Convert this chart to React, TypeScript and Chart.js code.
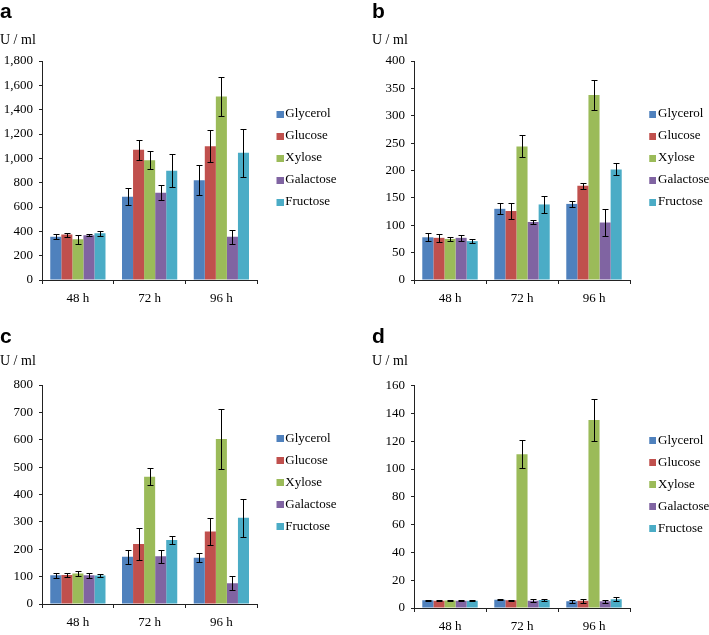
import React, { useEffect, useRef } from 'react';
import { Chart, registerables } from 'chart.js';

Chart.register(...registerables);

const categories = ['48 h', '72 h', '96 h'];
const seriesNames = ['Glycerol', 'Glucose', 'Xylose', 'Galactose', 'Fructose'];
const seriesColors = ['#4F81BD', '#C0504D', '#9BBB59', '#8064A2', '#4BACC6'];

// Panel a
const aGlycerol = [355, 685, 820];
const aGlucose = [373, 1070, 1100];
const aXylose = [335, 984, 1508];
const aGalactose = [367, 717, 355];
const aFructose = [384, 898, 1045];
const aGlycerolErr = [20, 72, 125];
const aGlucoseErr = [16, 82, 132];
const aXyloseErr = [35, 74, 158];
const aGalactoseErr = [8, 62, 57];
const aFructoseErr = [20, 137, 197];
const aTicks = [0, 1800, 200];

// Panel b
const bGlycerol = [78, 130, 139];
const bGlucose = [77, 126, 172];
const bXylose = [75, 244, 338];
const bGalactose = [77, 106, 105];
const bFructose = [71, 138, 202];
const bGlycerolErr = [7, 10, 6];
const bGlucoseErr = [7, 14, 6];
const bXyloseErr = [4, 20, 28];
const bGalactoseErr = [6, 3.5, 24];
const bFructoseErr = [4, 15, 11];
const bTicks = [0, 400, 50];

// Panel c
const cGlycerol = [105, 173, 169];
const cGlucose = [106, 219, 265];
const cXylose = [111, 465, 603];
const cGalactose = [105, 174, 76];
const cFructose = [104, 234, 315];
const cGlycerolErr = [10, 26, 17];
const cGlucoseErr = [7, 60, 48];
const cXyloseErr = [9, 32, 111];
const cGalactoseErr = [10, 23, 25];
const cFructoseErr = [7, 13, 69];
const cTicks = [0, 800, 100];

// Panel d
const dGlycerol = [5.5, 6.0, 4.8];
const dGlucose = [5.3, 5.5, 5.3];
const dXylose = [5.4, 110.7, 135.3];
const dGalactose = [5.3, 5.3, 4.8];
const dFructose = [5.3, 5.8, 6.3];
const dGlycerolErr = [0.3, 0.3, 1.3];
const dGlucoseErr = [0.3, 0.3, 1.5];
const dXyloseErr = [0.3, 10, 15];
const dGalactoseErr = [0.3, 1.2, 1.2];
const dFructoseErr = [0.3, 1.0, 1.3];
const dTicks = [0, 160, 20];

const panels = [
  {
    label: 'a', left: 0, top: 0, width: 343, height: 316, subPad: { top: 6.4, bottom: 12.6 },
    values: [aGlycerol, aGlucose, aXylose, aGalactose, aFructose],
    errors: [aGlycerolErr, aGlucoseErr, aXyloseErr, aGalactoseErr, aFructoseErr],
    ticks: aTicks,
  },
  {
    label: 'b', left: 372, top: 0, width: 344, height: 316, subPad: { top: 6.4, bottom: 12.6 },
    values: [bGlycerol, bGlucose, bXylose, bGalactose, bFructose],
    errors: [bGlycerolErr, bGlucoseErr, bXyloseErr, bGalactoseErr, bFructoseErr],
    ticks: bTicks,
  },
  {
    label: 'c', left: 0, top: 325, width: 343, height: 315, subPad: { top: 3.1, bottom: 14.9 },
    values: [cGlycerol, cGlucose, cXylose, cGalactose, cFructose],
    errors: [cGlycerolErr, cGlucoseErr, cXyloseErr, cGalactoseErr, cFructoseErr],
    ticks: cTicks,
  },
  {
    label: 'd', left: 372, top: 325, width: 344, height: 319, subPad: { top: 3.1, bottom: 15.6 },
    values: [dGlycerol, dGlucose, dXylose, dGalactose, dFructose],
    errors: [dGlycerolErr, dGlucoseErr, dXyloseErr, dGalactoseErr, dFructoseErr],
    ticks: dTicks,
  },
];

const AXIS = '#222';
const SERIF = "'Liberation Serif', 'Times New Roman', serif";

const errorBarPlugin = {
  id: 'errorBars',
  afterDatasetsDraw(chart: any) {
    const ctx = chart.ctx;
    const yScale = chart.scales.y;
    chart.data.datasets.forEach((ds: any, di: number) => {
      const meta = chart.getDatasetMeta(di);
      meta.data.forEach((bar: any, i: number) => {
        const v = ds.data[i];
        const e = ds.errors[i];
        const x = Math.round(bar.x) + 0.5;
        const yT = Math.round(yScale.getPixelForValue(v + e)) + 0.5;
        const yB = Math.round(yScale.getPixelForValue(v - e)) + 0.5;
        ctx.save();
        ctx.strokeStyle = '#000';
        ctx.lineWidth = 1;
        ctx.beginPath();
        ctx.moveTo(x, yT);
        ctx.lineTo(x, yB);
        ctx.moveTo(x - 3, yT);
        ctx.lineTo(x + 3, yT);
        ctx.moveTo(x - 3, yB);
        ctx.lineTo(x + 3, yB);
        ctx.stroke();
        ctx.restore();
      });
    });
  },
};

function makeSwatch(color: string) {
  const c = document.createElement('canvas');
  c.width = 22;
  c.height = 7;
  const g = c.getContext('2d')!;
  g.fillStyle = color;
  g.fillRect(15, 0, 7, 7);
  return c;
}

function Panel({ p }: { p: any }) {
  const ref = useRef<HTMLCanvasElement | null>(null);
  useEffect(() => {
    if (!ref.current) return;
    const swatches = seriesColors.map(makeSwatch);
    const chart = new Chart(ref.current, {
      type: 'bar',
      data: {
        labels: categories,
        datasets: seriesNames.map((name, i) => ({
          label: name,
          data: p.values[i],
          errors: p.errors[i],
          backgroundColor: seriesColors[i],
          borderWidth: 0,
          categoryPercentage: 0.77,
          barPercentage: 1,
        })) as any,
      },
      options: {
        responsive: false,
        animation: false,
        layout: { padding: 0 },
        plugins: {
          tooltip: { enabled: false },
          title: {
            display: true,
            text: p.label,
            align: 'start',
            color: '#000',
            font: { family: "'Liberation Sans', Arial, sans-serif", size: 21, weight: 'bold' },
            padding: { top: 0, bottom: 0 },
          },
          subtitle: {
            display: true,
            text: 'U / ml',
            align: 'start',
            color: '#000',
            font: { family: SERIF, size: 14 },
            padding: p.subPad,
          },
          legend: {
            position: 'right',
            align: 'center',
            labels: {
              color: '#000',
              font: { family: SERIF, size: 13 },
              usePointStyle: true,
              pointStyleWidth: 12.5,
              padding: 9,
              generateLabels: (chart: any) =>
                Chart.defaults.plugins.legend.labels
                  .generateLabels(chart)
                  .map((l: any, i: number) => ({ ...l, pointStyle: swatches[i], fontColor: '#000' })),
            },
          },
        },
        scales: {
          x: {
            grid: {
              display: true,
              drawOnChartArea: false,
              drawTicks: true,
              tickLength: 4,
              color: AXIS,
              offset: true,
            },
            border: { display: true, color: AXIS, width: 1 },
            ticks: { color: '#000', font: { family: SERIF, size: 13 }, padding: 7, maxRotation: 0 },
            afterFit: (s: any) => { s.height = 36; },
          },
          y: {
            min: p.ticks[0],
            max: p.ticks[1],
            grid: {
              display: true,
              drawOnChartArea: false,
              drawTicks: true,
              tickLength: 3,
              color: AXIS,
            },
            border: { display: true, color: AXIS, width: 1 },
            ticks: {
              stepSize: p.ticks[2],
              color: '#000',
              font: { family: SERIF, size: 13 },
              padding: 6,
              callback: (v: any) => Number(v).toLocaleString('en-US'),
            },
            afterFit: (s: any) => { s.width = 42; },
          },
        },
      } as any,
      plugins: [errorBarPlugin],
    });
    return () => chart.destroy();
  }, [p]);
  return (
    <canvas
      ref={ref}
      width={p.width}
      height={p.height}
      style={{ position: 'absolute', left: p.left, top: p.top, width: p.width, height: p.height }}
    />
  );
}

export default function App() {
  return (
    <div style={{ position: 'absolute', left: 0, top: 0, width: 709, height: 635, background: '#fff', overflow: 'hidden' }}>
      {panels.map((p) => (
        <Panel key={p.label} p={p} />
      ))}
    </div>
  );
}
